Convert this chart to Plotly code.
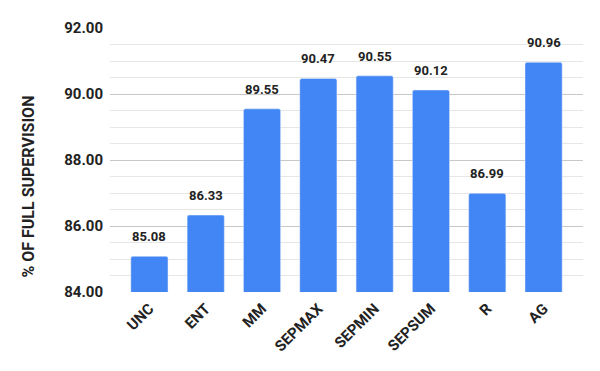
import plotly.graph_objects as go

methods = ["UNC", "ENT", "MM", "SEPMAX", "SEPMIN", "SEPSUM", "R", "AG"]
scores = [85.08, 86.33, 89.55, 90.47, 90.55, 90.12, 86.99, 90.96]
y_ticks = [84, 86, 88, 90, 92]

BLUE = "#4285F4"
FONT = "Roboto"

fig = go.Figure()
fig.add_trace(go.Bar(
    x=methods,
    y=scores,
    marker=dict(color=BLUE, cornerradius=2),
    hoverinfo="x+y",
))

# value labels sit a bit above the bars
for m, s in zip(methods, scores):
    fig.add_annotation(
        x=m, y=s, text=f"<b>{s:.2f}</b>", showarrow=False,
        yanchor="bottom", yshift=10,
        font=dict(family=FONT, size=13, color="#222222"),
    )

# y title is centred a little below the plot middle, like the original
fig.add_annotation(
    xref="paper", yref="paper", x=-0.173, y=0.40,
    text="<b>% OF FULL SUPERVISION</b>", textangle=-90, showarrow=False,
    xanchor="center", yanchor="middle",
    font=dict(family=FONT, size=16, color="#222222"),
)

# page body adds an 8px offset, so margins are trimmed to compensate
fig.update_layout(
    width=600, height=371,
    margin=dict(l=102, r=25, t=20, b=87),
    paper_bgcolor="white",
    plot_bgcolor="white",
    bargap=0.34,
    showlegend=False,
    font=dict(family=FONT, color="#222222"),
)

fig.update_xaxes(
    range=[-0.7, 7.7],
    tickangle=-45,
    tickfont=dict(family=FONT, size=15, color="#222222", weight="bold"),
    ticklabelstandoff=4,
    automargin=False,
    showgrid=False,
    showline=False,
    ticks="",
)

fig.update_yaxes(
    range=[84, 92],
    tickvals=y_ticks,
    ticktext=[f"{v:.2f}" for v in y_ticks],
    tickfont=dict(family=FONT, size=15, color="#222222", weight="bold"),
    ticklabelstandoff=6,
    automargin=False,
    showgrid=True,
    gridcolor="#c8c8c8",
    gridwidth=1,
    minor=dict(dtick=0.5, showgrid=True, gridcolor="#e6e6e6", gridwidth=1),
    zeroline=False,
    showline=False,
)

fig.write_html("out.html")
